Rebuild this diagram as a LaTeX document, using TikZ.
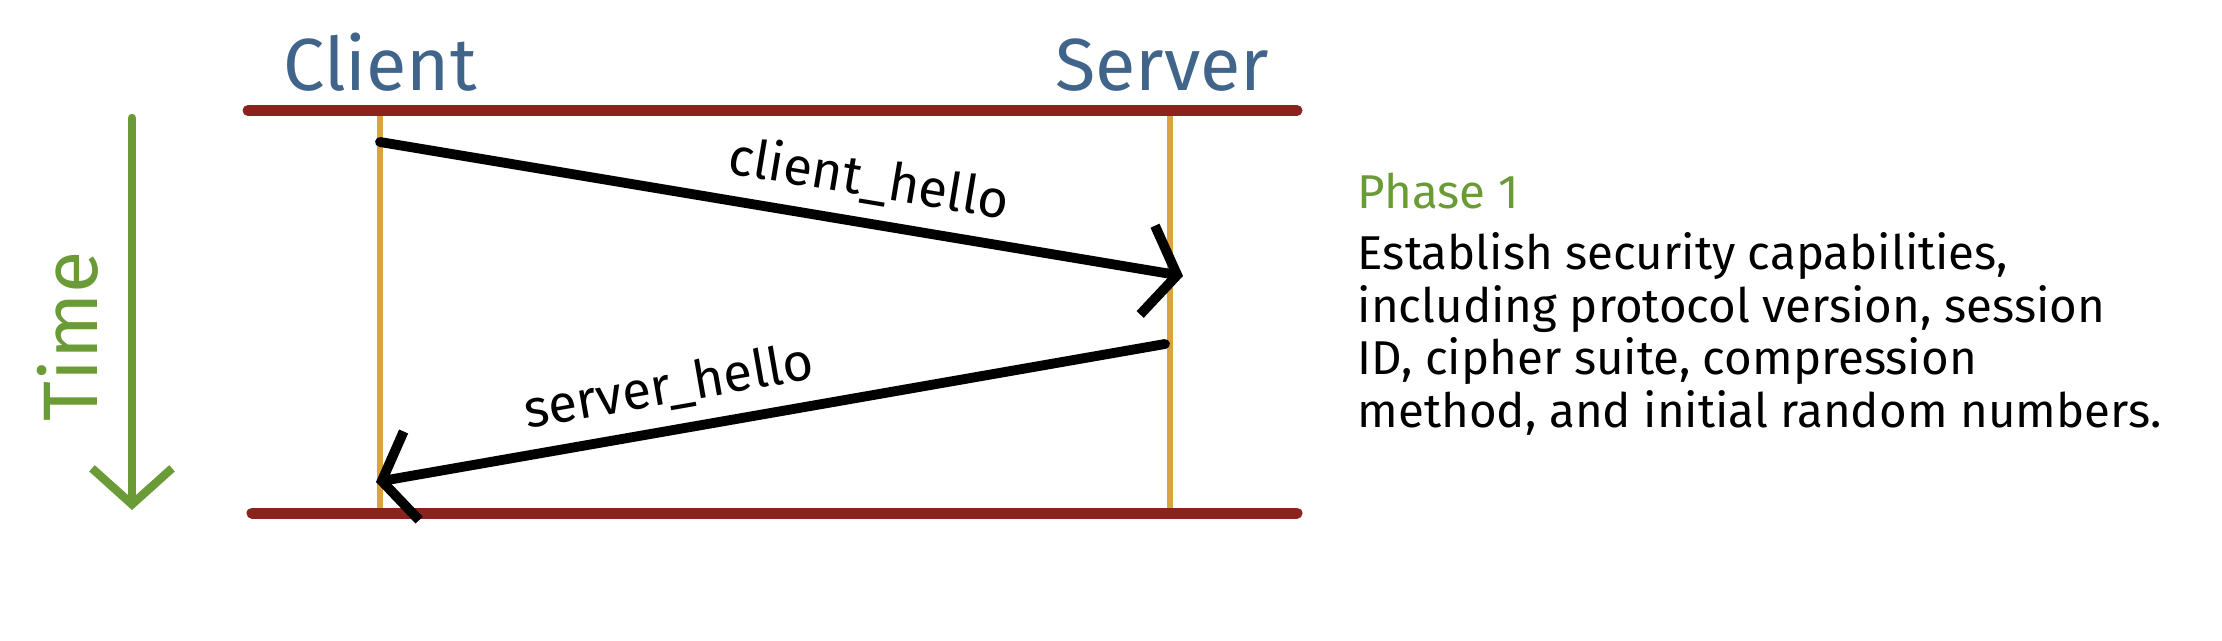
\documentclass[tikz,border=0pt]{standalone}
\usepackage{fontspec}
\setmainfont{Fira Sans}
\usetikzlibrary{positioning, arrows.meta}

\definecolor{barRed}{HTML}{8B231D}
\definecolor{lifeGold}{HTML}{D9A43E}
\definecolor{partyBlue}{HTML}{41658A}
\definecolor{timeGreen}{HTML}{6B9B37}

\begin{document}
\begin{tikzpicture}[
            node distance=0.1cm,
            party/.style={font=\fontsize{21}{25}\selectfont, text=partyBlue},
            boundary/.style={line width=0.11cm, color=barRed, line cap=round},
            lifeline/.style={line width=1.5pt, color=lifeGold},
            msg/.style={-{Straight Barb[length=0.3cm, width=0.9cm]}, line width=2.8pt, line cap=round},
            msglabel/.style={font=\fontsize{15}{18}\selectfont, sloped, inner sep=4pt},
            timeline/.style={-{Straight Barb[length=0.36cm, width=0.8cm]}, line width=2.4pt, color=timeGreen, line cap=round},
            desc/.style={font=\fontsize{13.5}{15}\selectfont, align=left, inner sep=0pt}
        ]
            \useasboundingbox (0,0) rectangle (22.22,6.4);

            % top and bottom bars
            \coordinate (topL) at (2.48,5.295);
            \coordinate (topR) at (12.97,5.295);
            \coordinate (botL) at (2.52,1.27);
            \coordinate (botR) at (12.97,1.27);
            \draw[boundary] (topL) -- (topR);
            \draw[boundary] (botL) -- (botR);

            % lifelines
            \coordinate (cliTop) at (3.80,5.24);
            \coordinate (cliBot) at (3.80,1.32);
            \coordinate (srvTop) at (11.70,5.24);
            \coordinate (srvBot) at (11.70,1.32);
            \draw[lifeline] (cliTop) -- (cliBot);
            \draw[lifeline] (srvTop) -- (srvBot);

            \node[party, above=0.12cm of cliTop] (client) {Client};
            \node[party, above=0.12cm of srvTop, xshift=-0.08cm] (server) {Server};

            % messages
            \coordinate (helloA) at (3.80,4.98);
            \coordinate (helloB) at (11.83,3.64);
            \coordinate (replyA) at (11.65,2.96);
            \coordinate (replyB) at (3.76,1.58);
            \draw[msg] (helloA) -- node[msglabel, above, pos=0.6] (chello) {client\_hello} (helloB);
            \draw[msg] (replyA) -- node[msglabel, above, pos=0.62] (shello) {server\_hello} (replyB);

            % time axis
            \coordinate (timeTop) at (1.32,5.22);
            \coordinate (timeBot) at (1.32,1.30);
            \draw[timeline] (timeTop) -- (timeBot);
            \node[font=\fontsize{22}{26}\selectfont, text=timeGreen, rotate=90] (time) at (0.68,3.04) {Time};

            % phase description
            \node[desc, anchor=west, text=timeGreen] (phase) at (13.57,4.49) {Phase 1};
            \node[desc, below=0.22cm of phase.south west, anchor=north west] (phasetext) {Establish security capabilities,\\
                including protocol version, session\\
                ID, cipher suite, compression\\
                method, and initial random numbers.};
        \end{tikzpicture}
\end{document}
